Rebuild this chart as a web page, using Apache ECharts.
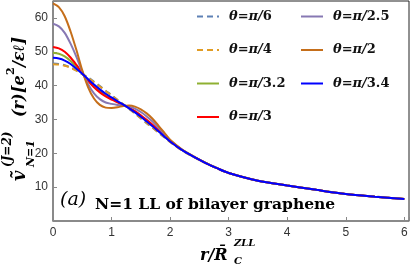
<!DOCTYPE html>
<html><head><meta charset="utf-8">
<script src="https://cdn.jsdelivr.net/npm/echarts@6/dist/echarts.min.js"></script>
<style>html,body{margin:0;padding:0;background:#fff}#c{width:412px;height:271px}</style>
</head><body><div id="c"></div>
<script>
// r / R_C^ZLL sample positions
const rValues = [0,0.1,0.2,0.3,0.4,0.5,0.6,0.7,0.8,0.9,1.0,1.1,1.2,1.3,1.4,1.5,1.6,1.7,1.8,1.9,2.0,2.2,2.4,2.6,2.8,3.0,3.5,4.0,4.5,5.0,5.5,6.0];
const seriesNames = ['θ=π/6','θ=π/4','θ=π/3.2','θ=π/3','θ=π/2.5','θ=π/2','θ=π/3.4'];
const v_pi6   = [46.5,46.4,46.0,45.4,44.45,43.4,42.4,41.15,39.9,38.5,37.2,35.8,34.45,33.1,31.75,30.35,28.9,27.55,26.15,24.75,23.35,20.9,18.95,17.2,15.6,14.2,11.9,10.5,9.2,8.0,7.2,6.5];
const v_pi4   = [46.3,46.2,45.85,45.3,44.4,43.4,42.3,41.0,39.75,38.4,37.1,35.75,34.45,33.15,31.8,30.4,28.98,27.6,26.2,24.8,23.38,20.92,18.96,17.2,15.6,14.2,11.9,10.5,9.2,8.0,7.2,6.5];
const v_pi32  = [49.7,49.42,48.62,47.29,45.51,43.59,41.68,39.92,38.47,37.22,36.21,35.23,34.36,33.38,32.26,31.01,29.62,28.21,26.66,25.1,23.55,21.02,19.0,17.2,15.6,14.2,11.9,10.5,9.2,8.0,7.2,6.5];
const v_pi3   = [51.4,51.0,50.0,48.3,46.1,43.7,41.4,39.5,38.0,36.8,35.9,35.04,34.32,33.46,32.44,31.24,29.88,28.44,26.84,25.22,23.6,21.04,19.0,17.2,15.6,14.2,11.9,10.5,9.2,8.0,7.2,6.5];
const v_pi25  = [58.3,57.5,55.6,52.4,48.5,44.1,40.4,37.7,36.0,35.0,34.6,34.3,34.15,33.8,33.2,32.2,30.9,29.4,27.6,25.7,23.8,21.1,19.05,17.22,15.6,14.2,11.9,10.5,9.2,8.0,7.2,6.5];
const v_pi2   = [64.3,63.2,60.5,56.0,50.5,44.5,39.5,36.2,34.3,33.5,33.4,33.6,34.0,34.1,33.8,33.0,31.8,30.2,28.2,26.1,24.0,21.2,19.1,17.25,15.6,14.2,11.9,10.5,9.2,8.0,7.2,6.5];
const v_pi34  = [48.2,48.0,47.4,46.4,45.0,43.5,41.9,40.3,38.9,37.6,36.5,35.4,34.4,33.3,32.1,30.8,29.4,28.0,26.5,25.0,23.5,21.0,19.0,17.2,15.6,14.2,11.9,10.5,9.2,8.0,7.2,6.5];
const xTicks = [0,1,2,3,4,5,6];
const yTicks = [10,20,30,40,50,60];

const colors = ['#5E81B5','#E19C24','#8FB032','#FF0000','#8778B3','#C56E1A','#0000FF'];
const dashed = [true,true,false,false,false,false,false];
const values = [v_pi6,v_pi4,v_pi32,v_pi3,v_pi25,v_pi2,v_pi34];

const serifB = '"DejaVu Serif"';
const legendText = {
  padding:[0,0,0,5],
  rich:{
    i:{fontFamily:serifB,fontStyle:'italic',fontWeight:'bold',fontSize:13,color:'#111'},
    n:{fontFamily:serifB,fontWeight:'bold',fontSize:13,color:'#111'}
  }
};
const legendFmt = name => { const p = name.split('/'); return '{i|' + p[0] + '/}{n|' + p[1] + '}'; };

const chart = echarts.init(document.getElementById('c'), null, {renderer:'canvas'});
chart.setOption({
  animation:false,
  backgroundColor:'#fff',
  grid:{left:53,top:1,right:2,bottom:50,show:true,borderColor:'#222',borderWidth:1,backgroundColor:'transparent'},
  xAxis:{type:'value',min:0,max:6.08,interval:1,
    axisLine:{show:true,lineStyle:{color:'#888',width:1.5}},
    axisTick:{show:true,inside:true,length:4,lineStyle:{color:'#888'}},
    axisLabel:{margin:6,fontFamily:'"Liberation Sans"',fontSize:12,color:'#333',
      formatter:v=>xTicks.includes(v)?String(v):''},
    splitLine:{show:false}},
  yAxis:{type:'value',min:0,max:65,interval:10,
    axisLine:{show:true,lineStyle:{color:'#888',width:1.5}},
    axisTick:{show:true,inside:true,length:4,lineStyle:{color:'#888'}},
    axisLabel:{margin:5,fontFamily:'"Liberation Sans"',fontSize:12,color:'#333',
      formatter:v=>yTicks.includes(v)?String(v):''},
    splitLine:{show:false}},
  legend:[
    {data:seriesNames.slice(0,4),orient:'vertical',left:196,top:10,itemWidth:22,itemHeight:14,itemGap:20.5,padding:0,
     itemStyle:{opacity:0},textStyle:legendText,formatter:legendFmt},
    {data:seriesNames.slice(4),orient:'vertical',left:300,top:10,itemWidth:22,itemHeight:14,itemGap:20.5,padding:0,
     itemStyle:{opacity:0},textStyle:legendText,formatter:legendFmt}
  ],
  series:values.map((arr,k)=>({
    name:seriesNames[k],type:'line',smooth:0.3,symbol:'none',
    data:rValues.map((r,i)=>[r,arr[i]]),
    lineStyle:{color:colors[k],width:2,type:dashed[k]?[6,4]:'solid'},
    itemStyle:{color:colors[k]},
    z:2+k
  })),
  graphic:[
    {type:'group',x:0,y:190,rotation:Math.PI/2,children:[
      {type:'text',x:9,y:20,style:{text:'ṽ',font:'italic bold 18px "DejaVu Serif"',fill:'#000',verticalAlign:'middle'}},
      {type:'text',x:23,y:8,style:{text:'(J=2)',font:'italic bold 12px "DejaVu Serif"',fill:'#000',verticalAlign:'middle'}},
      {type:'text',x:23,y:31,style:{text:'N=1',font:'italic bold 11px "DejaVu Serif"',fill:'#000',verticalAlign:'middle'}},
      {type:'text',x:73,y:20,style:{text:'(r)',font:'italic bold 16px "DejaVu Serif"',fill:'#000',verticalAlign:'middle'}},
      {type:'text',x:97,y:20,style:{text:'[e',font:'italic bold 16px "DejaVu Serif"',fill:'#000',verticalAlign:'middle'}},
      {type:'text',x:115,y:11,style:{text:'2',font:'bold 11px "DejaVu Serif"',fill:'#000',verticalAlign:'middle'}},
      {type:'text',x:123,y:20,style:{text:'/εℓ]',font:'italic bold 16px "DejaVu Serif"',fill:'#000',verticalAlign:'middle'}}
    ]},
    {type:'text',x:200,y:256,style:{text:'r/R̄',font:'italic bold 16px "DejaVu Serif"',fill:'#000',verticalAlign:'middle'}},
    {type:'text',x:234,y:243.5,style:{text:'ZLL',font:'italic bold 10px "DejaVu Serif"',fill:'#000',verticalAlign:'middle'}},
    {type:'text',x:234,y:261.5,style:{text:'C',font:'italic bold 10px "DejaVu Serif"',fill:'#000',verticalAlign:'middle'}},
    {type:'text',x:60,y:200,style:{text:'(a)',font:'italic 19px "DejaVu Serif"',fill:'#000',verticalAlign:'middle'}},
    {type:'text',x:95,y:205,style:{text:'N=1 LL of bilayer graphene',font:'bold 15.5px "DejaVu Serif"',fill:'#000',verticalAlign:'middle'}}
  ]
});
</script></body></html>
